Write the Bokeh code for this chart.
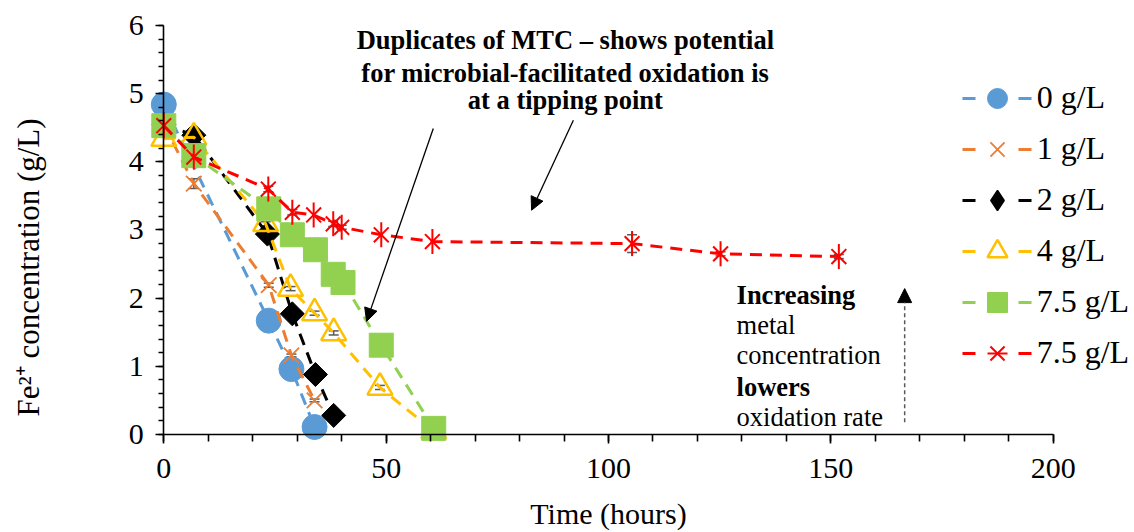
import numpy as np
from bokeh.plotting import figure
from bokeh.models import (Range1d, LinearAxis, SingleIntervalTicker, Legend, LegendItem,
                          ColumnDataSource, Whisker, TeeHead, Arrow, NormalHead, Label)
from bokeh.embed import file_html
from bokeh.resources import INLINE

# ---------------- data ----------------
series_labels = ["0 g/L", "1 g/L", "2 g/L", "4 g/L", "7.5 g/L", "7.5 g/L"]

t_0 = [0, 23.6, 28.7, 33.9]
c_0 = [4.84, 1.67, 0.96, 0.11]
e_0 = [0, 0, 0, 0]

t_1 = [0, 6.75, 23.6, 28.7, 33.9]
c_1 = [4.55, 3.68, 2.19, 1.16, 0.50]
e_1 = [0, 0.07, 0.03, 0.02, 0.02]

t_2 = [0, 6.75, 23.3, 28.9, 34.1, 38.2]
c_2 = [4.55, 4.39, 2.94, 1.77, 0.88, 0.28]
e_2 = [0, 0, 0, 0, 0, 0]

t_4 = [0, 6.75, 22.9, 28.5, 33.9, 38.2, 48.6, 60.7]
c_4 = [4.34, 4.36, 3.09, 2.14, 1.78, 1.49, 0.69, 0.05]
e_4 = [0, 0, 0.03, 0.03, 0.03, 0.03, 0.03, 0]

t_75a = [0, 6.75, 23.6, 28.9, 34.1, 38.1, 40.3, 48.9, 60.7]
c_75a = [4.53, 4.09, 3.31, 2.93, 2.71, 2.35, 2.23, 1.31, 0.09]
e_75a = [0, 0, 0, 0, 0, 0, 0, 0, 0]

t_75b = [0, 6.75, 23.5, 28.9, 33.7, 38.1, 40.0, 48.9, 60.4, 105.3, 125.2, 151.8]
c_75b = [4.53, 4.07, 3.60, 3.26, 3.22, 3.09, 3.04, 2.93, 2.83, 2.80, 2.65, 2.61]
e_75b = [0, 0, 0.04, 0.04, 0, 0.04, 0.03, 0, 0, 0.13, 0.03, 0.03]

x_ticks_interval = 50
y_ticks_interval = 1

annot_top = ["Duplicates of MTC \u2013 shows potential",
             "for microbial-facilitated oxidation is",
             "at a tipping point"]
annot_side = [("Increasing", "bold"), ("metal", "normal"), ("concentration", "normal"),
              ("lowers", "bold"), ("oxidation rate", "normal")]

# ---------------- figure ----------------
FONT = "Liberation Serif"
W, H = 1134, 532
# frame covers the whole canvas; axes are pinned at x=0 / y=0
x0_px, px_per_hr = 163.3, 4.447
y0_px, px_per_unit = 434.0, 68.17
x_rng = Range1d(-x0_px / px_per_hr, (W - x0_px) / px_per_hr)
y_rng = Range1d(-(H - y0_px) / px_per_unit, y0_px / px_per_unit)

p = figure(width=W, height=H, x_range=x_rng, y_range=y_rng,
           output_backend="svg", toolbar_location=None, x_axis_type=None, y_axis_type=None,
           min_border=0)
p.outline_line_color = None
p.background_fill_color = "white"
p.border_fill_color = "white"

xaxis = LinearAxis(fixed_location=0, bounds=(0, 200),
                   ticker=SingleIntervalTicker(interval=x_ticks_interval, num_minor_ticks=5))
yaxis = LinearAxis(fixed_location=0, bounds=(0, 6),
                   ticker=SingleIntervalTicker(interval=y_ticks_interval, num_minor_ticks=5))
for ax in (xaxis, yaxis):
    ax.axis_line_width = 1.6
    ax.axis_line_color = "black"
    ax.major_tick_line_width = 1.6
    ax.minor_tick_line_width = 1.6
    ax.major_tick_line_color = "black"
    ax.minor_tick_line_color = "black"
    ax.major_tick_in = 0
    ax.minor_tick_in = 0
    ax.major_label_text_font = FONT
    ax.major_label_text_font_size = "30px"
    ax.major_label_text_color = "black"
xaxis.major_tick_out = 9
xaxis.minor_tick_out = 7
xaxis.major_label_standoff = 15
yaxis.major_tick_out = 8
yaxis.minor_tick_out = 5
yaxis.major_label_standoff = 12
p.add_layout(xaxis, "below")
p.add_layout(yaxis, "left")

DASH = "12 8"
LW = 3
nan2 = [np.nan, np.nan]

items = []
whisk = []

def leg_line(color):
    return p.line(x=nan2, y=nan2, line_color=color, line_width=LW, line_dash="13 43")

# 0 g/L
col = "#5B9BD5"
p.line(t_0, c_0, line_color=col, line_width=LW, line_dash=DASH)
r = p.scatter(t_0, c_0, marker="circle", size=25, fill_color=col, line_color=col, line_width=1)
items.append(LegendItem(label=series_labels[0], renderers=[leg_line(col), r]))
whisk.append((t_0, c_0, e_0))

# 1 g/L
col = "#ED7D31"
p.line(t_1, c_1, line_color=col, line_width=LW, line_dash=DASH)
r = p.scatter(t_1, c_1, marker="x", size=22, line_color=col, line_width=1.8)
items.append(LegendItem(label=series_labels[1], renderers=[leg_line(col), r]))
whisk.append((t_1, c_1, e_1))

# 2 g/L
col = "#000000"
p.line(t_2, c_2, line_color=col, line_width=LW, line_dash=DASH)
p.scatter(t_2, c_2, marker="square", size=17, angle=np.pi / 4, fill_color=col, line_color=col)
rl = p.scatter(x=nan2, y=nan2, marker="diamond", fill_color=col, line_color=col, line_width=1.5)
items.append(LegendItem(label=series_labels[2], renderers=[leg_line(col), rl]))
whisk.append((t_2, c_2, e_2))

# 4 g/L
col = "#FFC000"
p.line(t_4, c_4, line_color=col, line_width=LW, line_dash=DASH)
r = p.scatter(t_4, c_4, marker="triangle", size=25, fill_alpha=0, line_color=col, line_width=2.5)
items.append(LegendItem(label=series_labels[3], renderers=[leg_line(col), r]))
whisk.append((t_4, c_4, e_4))

# 7.5 g/L (a)
col = "#92D050"
p.line(t_75a, c_75a, line_color=col, line_width=LW, line_dash=DASH)
r = p.scatter(t_75a, c_75a, marker="square", size=24, fill_color=col, line_color=col)
items.append(LegendItem(label=series_labels[4], renderers=[leg_line(col), r]))
whisk.append((t_75a, c_75a, e_75a))

# 7.5 g/L (b)
col = "#FF0000"
p.line(t_75b, c_75b, line_color=col, line_width=LW, line_dash=DASH)
r1 = p.scatter(t_75b, c_75b, marker="x", size=21, line_color=col, line_width=2)
r2 = p.scatter(t_75b, c_75b, marker="dash", size=25, angle=np.pi / 2, line_color=col, line_width=2)
items.append(LegendItem(label=series_labels[5], renderers=[leg_line(col), r1, r2]))
whisk.append((t_75b, c_75b, e_75b))

# error bars
for tt, cc, ee in whisk:
    sel = [i for i, e in enumerate(ee) if e > 0]
    if not sel:
        continue
    src = ColumnDataSource(dict(t=[tt[i] for i in sel],
                                lo=[cc[i] - ee[i] for i in sel],
                                hi=[cc[i] + ee[i] for i in sel]))
    w = Whisker(base="t", lower="lo", upper="hi", source=src,
                line_color="#595959", line_width=1.5,
                upper_head=TeeHead(size=10, line_color="#595959", line_width=1.5),
                lower_head=TeeHead(size=10, line_color="#595959", line_width=1.5))
    p.add_layout(w)

# legend (screen offsets from the frame's lower-left corner)
legend = Legend(items=items, location=(961.7, H - 377.7), orientation="vertical",
                glyph_width=70, glyph_height=50, label_height=50, label_standoff=5,
                spacing=1, padding=0, margin=0, border_line_color=None,
                background_fill_alpha=0, label_text_font=FONT,
                label_text_font_size="32px", label_text_color="black")
p.add_layout(legend)

# annotation arrows
p.add_layout(Arrow(x_start=60.6, y_start=4.49, x_end=45.6, y_end=1.66,
                   line_color="black", line_width=1.3,
                   end=NormalHead(size=13, fill_color="black", line_color="black")))
p.add_layout(Arrow(x_start=92.1, y_start=4.61, x_end=82.7, y_end=3.29,
                   line_color="black", line_width=1.3,
                   end=NormalHead(size=13, fill_color="black", line_color="black")))
p.add_layout(Arrow(x_start=166.6, y_start=0.18, x_end=166.6, y_end=2.14,
                   line_color="#595959", line_width=1.5, line_dash="4 3",
                   end=NormalHead(size=14, fill_color="black", line_color="black")))

# annotation texts
for txt, yy in zip(annot_top, [5.78, 5.31, 4.90]):
    p.add_layout(Label(x=90.3, y=yy, text=txt, text_font=FONT, text_font_size="26.5px",
                       text_font_style="bold", text_align="center", text_baseline="middle",
                       text_color="black"))
for (txt, sty), yy in zip(annot_side, [2.04, 1.60, 1.16, 0.69, 0.25]):
    p.add_layout(Label(x=128.8, y=yy, text=txt, text_font=FONT, text_font_size="26.5px",
                       text_font_style=sty, text_align="left", text_baseline="middle",
                       text_color="black"))

# axis titles
p.add_layout(Label(x=100, y=-1.405, text="Time (hours)", text_font=FONT, text_font_size="30px",
                   text_align="center", text_baseline="bottom", text_color="black"))
p.add_layout(Label(x=-30.5, y=2.45, text="Fe\u00b2\u207a concentration (g/L)", angle=np.pi / 2,
                   text_font=FONT, text_font_size="31px", text_align="center",
                   text_baseline="middle", text_color="black"))

open("out.html", "w").write(file_html(p, INLINE))
